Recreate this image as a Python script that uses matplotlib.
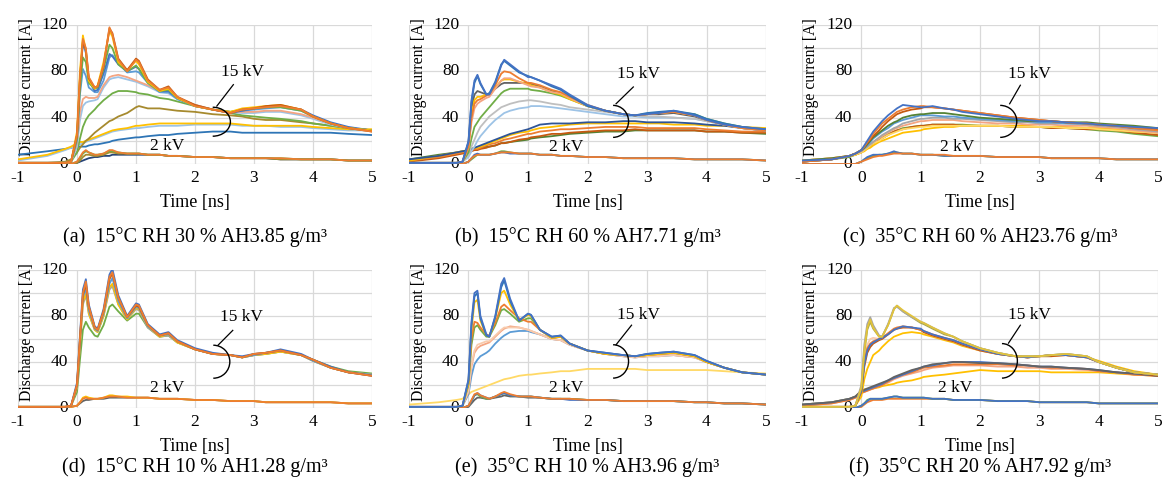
import matplotlib
matplotlib.use("Agg")
import matplotlib.pyplot as plt
from matplotlib.patches import Arc

# ---------------- data ----------------
# common time grid [ns]
T = [-1.0, -0.5, -0.2, -0.1, 0.0, 0.05, 0.1, 0.15, 0.2, 0.3, 0.35, 0.45, 0.55, 0.6, 0.7, 0.85,
     1.0, 1.05, 1.2, 1.4, 1.55, 1.7, 2.0, 2.3, 2.6, 2.8, 3.0, 3.2, 3.45, 3.8, 4.0, 4.3, 4.6, 5.0]

# (a) 15C RH30%
A15 = [
    [8,11,13,14,15,15,15,15,16,17,17,18,19,20,21,22,23,23,24,25,25,26,27,28,28,27,27,27,27,27,27,27,26,25],
    [3,7,12,14,16,17,18,19,20,22,23,25,27,28,29,30,31,31,32,33,33,33,34,34,34,33,33,33,32,32,31,30,29,29],
    [4,8,13,15,18,19,19,20,21,23,24,26,28,29,30,31,33,33,34,35,35,35,35,35,35,34,33,33,33,33,32,31,30,30],
    [1,1,2,4,10,14,17,20,22,27,29,33,37,38,41,44,49,50,48,48,47,46,45,43,42,41,39,38,38,36,35,33,31,29],
    [1,1,1,2,10,22,32,38,42,47,50,55,59,61,63,63,62,61,60,57,56,54,50,47,44,42,41,40,39,37,35,33,31,29],
    [1,1,1,2,15,38,50,53,54,55,56,66,73,74,75,73,71,70,67,62,61,56,51,47,45,44,44,45,45,42,39,34,31,29],
    [1,1,1,2,18,45,56,58,57,57,58,68,75,76,77,75,72,71,68,63,62,57,51,47,45,45,45,46,46,43,40,35,31,29],
    [1,1,1,2,20,60,82,76,66,62,62,72,92,94,87,79,80,79,70,62,62,56,50,47,45,46,47,48,49,46,41,35,31,29],
    [1,1,1,2,24,72,105,96,72,63,64,78,95,93,86,80,84,82,71,63,63,57,50,47,44,46,48,49,50,47,42,36,32,29],
    [1,1,1,2,22,65,92,88,70,65,66,82,103,100,86,80,85,82,70,63,64,57,50,47,45,47,48,49,49,46,41,35,31,29],
    [1,1,1,2,28,80,111,98,72,65,68,88,115,110,88,81,89,86,71,63,65,57,50,47,45,48,49,50,51,47,41,35,31,29],
    [1,1,1,2,25,74,106,99,74,66,67,84,117,113,91,81,91,89,73,64,67,58,51,47,44,47,48,50,51,47,41,35,31,28],
    [1,1,1,2,25,75,108,100,75,66,67,85,118,112,90,80,90,88,72,64,66,58,50,47,44,47,48,49,50,47,41,35,31,28],
]
A2 = [
    [0,0,0,0,1,2,3,4,5,6,6,7,7,8,8,8,8,8,8,8,7,7,6,6,5,5,5,5,4,4,4,4,3,3],
    [0,0,0,0,1,3,6,8,8,7,7,8,10,10,9,9,9,9,8,8,7,7,6,6,5,5,5,5,4,4,4,4,3,3],
    [0,0,0,0,2,5,9,11,10,8,8,9,11,11,10,9,9,9,8,8,7,7,6,6,5,5,5,5,5,4,4,4,3,3],
    [0,0,0,0,2,6,10,12,10,8,8,9,12,12,10,9,9,9,8,8,7,7,6,6,5,5,5,5,5,4,4,4,3,3],
]

# (b) 15C RH60%
B15 = [
    [4,8,10,11,12,12,13,13,14,15,15,16,18,18,19,20,21,22,23,24,25,26,27,28,28,29,29,29,29,29,28,28,27,26],
    [2,5,8,9,10,11,12,12,13,14,15,16,18,18,19,21,22,23,24,26,26,27,28,29,29,30,29,29,29,29,28,28,27,27],
    [3,6,9,10,11,12,13,13,14,16,17,18,20,21,22,24,26,26,28,29,30,30,31,32,32,32,31,31,31,31,30,29,28,28],
    [3,7,10,11,12,13,14,14,15,17,18,20,22,23,25,27,28,29,31,32,33,34,35,35,35,35,35,35,34,34,33,33,32,31],
    [4,7,10,11,12,13,14,15,16,18,19,21,23,24,26,28,30,31,34,35,35,35,36,36,37,37,36,36,36,35,34,33,31,29],
    [1,1,1,2,6,11,15,20,24,30,33,38,42,44,46,48,49,50,50,49,48,47,45,43,41,41,40,40,40,39,37,34,31,29],
    [1,1,1,2,8,15,21,27,32,38,41,45,49,50,52,54,55,55,54,52,51,49,47,45,43,42,41,41,40,39,37,34,31,29],
    [1,1,1,2,10,22,32,36,40,46,49,55,61,63,65,65,65,64,63,61,59,56,50,46,43,42,43,44,45,43,39,35,32,29],
    [1,1,1,2,18,48,60,63,62,60,61,65,69,70,70,70,70,69,67,63,61,57,50,46,43,42,43,43,44,41,38,34,31,29],
    [1,1,1,2,16,42,55,58,58,60,60,66,72,73,73,71,69,68,66,62,60,56,50,46,43,42,43,44,45,42,38,34,31,30],
    [1,1,1,2,14,36,48,52,54,57,58,65,72,74,74,71,68,67,66,62,61,57,50,46,43,42,43,44,45,42,38,34,31,29],
    [1,1,1,2,15,40,52,55,56,59,60,68,78,80,79,74,70,70,68,64,62,58,51,46,43,42,43,44,45,42,38,34,31,29],
    [1,1,1,2,19,53,70,76,69,60,61,71,86,89,85,79,76,75,72,67,64,59,50,46,43,42,44,45,46,43,39,35,32,30],
    [1,1,1,2,20,55,72,77,70,60,60,70,85,90,86,80,75,75,72,68,65,60,51,46,43,42,43,44,46,42,38,34,32,30],
]
B2 = [
    [0,0,0,0,2,4,6,8,8,8,8,9,11,11,10,9,9,9,8,8,7,7,6,6,5,5,5,5,5,4,4,4,4,3],
    [0,0,0,0,2,5,8,9,8,8,8,9,10,10,9,9,9,9,8,8,7,7,6,6,5,5,5,5,5,4,4,4,4,3],
    [0,0,0,0,2,5,7,8,8,8,8,9,10,10,10,9,9,9,8,8,7,7,6,6,5,5,5,5,5,4,4,4,4,3],
]

# (c) 35C RH60%
C15 = [
    [2,4,6,8,10,12,14,16,18,21,23,26,28,29,31,32,33,33,34,34,34,34,33,33,32,32,32,31,31,30,29,28,26,24],
    [2,4,7,8,10,12,14,16,18,21,22,25,28,29,30,32,33,33,34,34,34,33,33,33,32,32,32,31,31,30,30,29,27,25],
    [3,5,7,8,10,11,13,14,16,19,20,22,24,25,27,28,29,30,31,32,32,33,33,33,33,33,32,32,32,31,31,30,28,27],
    [3,5,7,8,10,12,14,16,18,20,22,25,27,28,30,31,32,32,33,33,33,33,33,33,32,32,32,32,31,31,30,29,28,27],
    [3,5,7,9,11,13,15,17,19,22,24,27,30,31,33,35,37,37,38,38,38,37,36,35,35,34,34,34,33,33,32,31,29,27],
    [2,4,7,9,11,13,15,17,19,23,25,28,31,32,35,37,39,39,40,40,39,39,38,37,36,36,35,35,35,34,33,32,30,28],
    [2,4,7,9,12,14,16,19,22,26,28,31,35,36,38,40,42,42,42,41,41,40,39,38,37,37,36,36,35,35,34,33,31,30],
    [3,5,7,9,12,14,17,20,23,27,29,33,36,37,40,42,43,43,44,44,43,42,40,39,38,37,37,37,36,36,35,34,33,31],
    [2,4,7,9,12,15,18,21,24,29,32,37,41,43,45,47,48,49,49,48,47,46,44,42,40,39,38,37,36,35,34,33,31,30],
    [2,4,7,9,12,15,19,22,26,32,35,39,43,45,47,49,50,50,49,48,47,46,44,42,40,39,38,37,36,35,34,33,31,29],
    [3,4,7,9,12,16,20,24,28,34,37,42,46,48,51,50,49,49,50,48,47,45,43,41,39,38,37,37,36,35,34,33,32,31],
]
C2 = [
    [0,0,0,0,2,4,5,6,7,8,8,9,10,10,9,9,8,8,8,7,7,7,7,6,6,6,6,5,5,5,5,4,4,4],
    [0,0,0,0,2,4,6,7,8,8,8,9,11,10,9,9,8,8,8,7,7,7,7,6,6,6,6,5,5,5,5,4,4,4],
    [0,0,0,0,2,3,4,5,6,7,7,8,9,9,9,9,8,8,8,8,7,7,7,6,6,6,6,5,5,5,5,4,4,4],
]

# (d) 15C RH10%
D15 = [
    [1,1,1,2,14,42,68,75,70,63,62,72,88,90,84,76,82,82,70,62,63,57,51,47,46,44,46,47,49,46,42,36,32,30],
    [1,1,1,2,18,55,90,98,82,68,66,80,103,106,90,77,86,85,70,62,63,57,51,47,46,44,46,47,49,46,41,35,31,29],
    [1,1,1,2,18,55,92,100,82,68,66,80,105,108,90,77,87,86,71,62,64,57,51,47,46,44,46,47,49,46,41,35,31,29],
    [1,1,1,2,19,58,96,104,85,69,67,82,108,113,93,78,88,87,71,63,64,58,51,47,46,44,46,48,50,46,41,35,31,29],
    [1,1,1,2,22,63,103,112,90,71,69,86,116,121,98,80,91,90,73,64,66,59,52,48,46,45,47,48,51,47,42,36,31,28],
    [1,1,1,2,20,60,98,108,88,70,68,84,112,117,96,79,89,88,72,63,65,58,51,47,46,44,47,48,50,46,42,35,31,28],
    [1,1,1,2,20,60,100,110,88,70,68,84,114,118,96,79,90,89,72,63,65,58,51,47,46,44,47,48,50,46,42,35,31,28],
]
D2 = [
    [1,1,1,1,2,4,6,7,7,8,8,8,9,9,9,9,9,9,9,8,8,8,7,7,6,6,6,5,5,5,5,5,4,4],
    [1,1,1,1,2,5,9,10,9,8,8,9,11,11,10,10,9,9,9,8,8,8,7,7,6,6,6,5,5,5,5,5,4,4],
    [1,1,1,1,2,5,8,9,8,8,8,9,10,10,10,9,9,9,9,8,8,8,7,7,6,6,6,5,5,5,5,5,4,4],
]

# (e) 35C RH10%
E15 = [
    [3,5,7,8,12,14,15,16,17,19,20,22,24,25,26,28,29,29,30,31,32,32,34,34,34,34,33,33,33,33,33,32,31,30],
    [1,1,1,2,12,28,38,42,45,48,50,56,61,63,66,67,67,66,64,60,59,55,50,47,45,44,45,45,46,44,40,35,31,29],
    [1,1,1,2,14,36,48,52,54,56,57,62,67,69,71,70,68,67,64,60,59,55,50,47,45,44,45,46,46,44,40,35,31,29],
    [1,1,1,2,15,38,50,55,56,58,58,63,68,70,70,70,68,67,64,60,59,55,50,47,45,44,45,45,46,44,40,35,31,29],
    [1,1,1,2,20,55,70,72,68,62,62,72,85,86,82,75,78,78,68,61,62,56,50,47,46,45,46,47,48,45,40,35,31,29],
    [1,1,1,2,22,60,75,74,70,64,63,74,88,90,85,78,75,75,68,61,62,56,50,47,46,45,46,47,48,45,40,35,31,29],
    [1,1,1,2,22,68,92,94,76,63,62,78,100,102,90,76,81,80,68,61,62,56,50,47,46,45,46,47,48,45,40,35,31,29],
    [1,1,1,2,24,72,97,100,78,63,62,79,105,111,93,76,82,81,68,62,63,56,50,48,46,45,47,48,49,46,41,35,31,29],
    [1,1,1,2,25,75,100,102,80,64,62,80,108,113,95,76,82,81,68,62,63,56,50,48,46,45,47,48,49,46,41,35,31,29],
]
E2 = [
    [0,0,0,0,1,4,7,9,9,8,8,9,10,11,10,10,9,9,9,8,8,8,7,7,6,6,6,6,6,5,5,4,4,3],
    [0,0,0,0,2,6,11,12,10,8,8,10,12,13,11,10,10,10,9,8,8,8,7,7,6,6,6,6,6,5,5,4,4,3],
    [0,0,0,0,2,6,11,13,11,9,8,10,12,13,11,10,10,10,9,8,8,7,7,7,6,6,6,6,6,5,5,4,4,3],
    [0,0,0,0,2,7,12,13,11,9,8,10,13,14,12,10,10,10,9,8,8,8,7,7,6,6,6,6,6,5,5,4,4,3],
]

# (f) 35C RH20%
F15 = [
    [3,5,8,10,15,16,16,17,17,18,19,20,21,22,23,24,26,27,28,29,30,31,33,32,32,32,32,31,31,31,31,30,29,28],
    [2,4,7,9,13,14,15,16,17,19,20,22,25,26,28,30,32,33,35,36,37,37,37,36,36,35,35,34,34,33,32,31,29,28],
    [2,4,7,9,13,14,15,16,17,19,20,23,26,27,29,31,34,35,36,37,38,38,38,38,37,37,36,35,35,34,32,31,29,28],
    [3,5,8,10,14,15,16,17,18,20,21,24,26,27,29,32,35,36,37,39,40,40,40,39,38,37,36,36,35,34,33,31,30,28],
    [3,5,8,10,15,16,17,18,19,21,22,24,27,28,30,33,35,36,38,39,40,40,39,39,38,37,36,36,35,34,33,31,30,28],
    [1,1,1,2,10,25,34,40,46,50,53,58,62,63,65,66,65,64,62,59,57,54,50,47,45,44,45,46,46,44,41,36,32,29],
    [1,1,1,2,16,42,55,60,61,60,60,64,68,69,70,70,68,66,63,60,58,55,50,47,45,44,45,45,46,44,40,35,31,29],
    [1,1,1,2,14,36,48,53,56,59,60,64,68,69,70,70,68,66,63,60,58,55,50,47,45,44,45,45,46,44,40,35,31,28],
    [1,1,1,2,15,40,52,56,58,60,61,65,69,70,71,70,68,67,64,61,59,56,51,47,45,44,45,46,46,44,40,35,31,29],
    [1,1,1,2,15,38,50,55,57,60,61,64,68,69,71,70,69,67,64,61,59,56,51,47,45,44,45,46,46,44,40,35,31,29],
    [1,1,1,2,17,48,68,75,69,62,62,72,86,89,84,79,74,73,69,64,62,58,52,48,45,45,45,46,47,45,40,35,31,29],
    [1,1,1,2,20,55,73,79,72,63,62,73,87,88,84,79,75,74,70,65,62,58,52,48,45,45,45,46,47,45,40,35,31,29],
    [1,1,1,2,18,50,70,77,70,62,62,72,86,89,85,80,75,74,70,65,62,58,52,48,45,45,45,46,47,45,40,35,31,29],
]
F2 = [
    [0,0,0,0,1,3,5,6,7,7,7,8,8,8,8,8,8,8,8,8,7,7,7,6,6,6,5,5,5,5,4,4,4,4],
    [0,0,0,0,2,4,7,8,8,8,8,9,10,10,9,9,9,9,8,8,7,7,7,6,6,6,5,5,5,5,4,4,4,4],
    [0,0,0,0,2,4,6,8,8,8,8,9,10,10,9,9,9,9,8,8,7,7,7,6,6,6,5,5,5,5,4,4,4,4],
]

CAPTIONS = [
    "(a)  15°C RH 30 % AH3.85 g/m³",
    "(b)  15°C RH 60 % AH7.71 g/m³",
    "(c)  35°C RH 60 % AH23.76 g/m³",
    "(d)  15°C RH 10 % AH1.28 g/m³",
    "(e)  35°C RH 10 % AH3.96 g/m³",
    "(f)  35°C RH 20 % AH7.92 g/m³",
]
XTICKS = [-1, 0, 1, 2, 3, 4, 5]
YLABELS = [0, 40, 80, 120]

# ---------------- styles ----------------
SERIF = "Liberation Serif"
plt.rcParams["font.family"] = [SERIF, "DejaVu Serif"]

BLUE, ORANGE, GRAY, GOLD, LBLUE, GREEN = "#4472C4", "#ED7D31", "#A5A5A5", "#FFC000", "#5B9BD5", "#70AD47"
DBLUE, DORANGE, DGRAY, OLIVE = "#264478", "#C55A11", "#636363", "#A68A2E"
SALMON, PALEBLUE, LGRAY, DGREEN = "#F4A582", "#9DC3E6", "#BFBFBF", "#548235"

COLORS = {
    "a15": ["#2E75B6", PALEBLUE, GOLD, OLIVE, GREEN, PALEBLUE, SALMON, LBLUE, BLUE, GREEN, GOLD, DORANGE, ORANGE],
    "a2": [DBLUE, OLIVE, GREEN, ORANGE],
    "b15": [DGREEN, DORANGE, ORANGE, GOLD, "#2F5597", PALEBLUE, LGRAY, GREEN, DGRAY, GOLD, SALMON, ORANGE, "#2E75B6", BLUE],
    "b2": [GREEN, BLUE, ORANGE],
    "c15": [GREEN, DORANGE, GOLD, "#FFD966", SALMON, GRAY, LBLUE, DGREEN, DORANGE, ORANGE, BLUE],
    "c2": [GREEN, BLUE, ORANGE],
    "d15": [GREEN, GRAY, GOLD, LBLUE, BLUE, DORANGE, ORANGE],
    "d2": [DGRAY, GOLD, ORANGE],
    "e15": ["#FFD966", LBLUE, SALMON, "#F8CBAD", GREEN, ORANGE, GOLD, "#2E75B6", BLUE],
    "e2": [DGRAY, GREEN, BLUE, ORANGE],
    "f15": [GOLD, SALMON, ORANGE, BLUE, DGRAY, GOLD, "#F8CBAD", DORANGE, ORANGE, BLUE, "#A9A946", GRAY, "#E2C33C"],
    "f2": [ORANGE, GREEN, BLUE],
}

W, H = 1164, 488
COLS = [(18, 372), (409, 766), (802, 1158)]
ROWS = [(25, 164), (270, 408)]
ROW_TEXT = [(180, 203, 237), (425, 447, 467)]

# annotation geometry (data coords): label15, leader start, leader end, arc (t0, ytop, ybot, dx), label2
ANN = [
    ((2.80, 79), (2.65, 68.5), (2.37, 50.0), (2.30, 49.0, 24.0, 0.30), (1.52, 15.5)),
    ((2.85, 78), (2.77, 66.5), (2.48, 52.0), (2.43, 50.6, 23.0, 0.26), (1.64, 14.5)),
    ((2.84, 78), (2.68, 68.0), (2.50, 52.0), (2.34, 50.6, 23.0, 0.28), (1.61, 14.5)),
    ((2.79, 79), (2.64, 67.5), (2.39, 54.6), (2.31, 54.6, 25.9, 0.28), (1.52, 17.0)),
    ((2.86, 81), (2.74, 72.0), (2.48, 55.0), (2.43, 55.0, 26.0, 0.26), (1.64, 17.0)),
    ((2.84, 81), (2.68, 72.0), (2.48, 56.4), (2.37, 56.0, 26.0, 0.26), (1.58, 17.0)),
]

panels = [(A15, A2, "a"), (B15, B2, "b"), (C15, C2, "c"), (D15, D2, "d"), (E15, E2, "e"), (F15, F2, "f")]

fig = plt.figure(figsize=(W / 100, H / 100), dpi=100)

for i, (s15, s2, key) in enumerate(panels):
    r, c = divmod(i, 3)
    x0, x1 = COLS[c]
    y0, y1 = ROWS[r]
    ax = fig.add_axes([x0 / W, 1 - y1 / H, (x1 - x0) / W, (y1 - y0) / H])
    ax.set_xlim(-1, 5)
    ax.set_ylim(0, 120)
    for sp in ax.spines.values():
        sp.set_visible(False)
    ax.set_xticks(XTICKS)
    ax.set_xticklabels([str(v) for v in XTICKS], fontsize=12.5)
    ax.set_yticks(range(0, 121, 20))
    ax.set_yticklabels([])
    ax.tick_params(length=0, pad=4.5)
    ax.grid(True, color="#d9d9d9", lw=0.9, zorder=0)
    ax.set_axisbelow(True)

    for v in YLABELS:
        ax.text(-0.155, v, str(v), ha="right", va="center", fontsize=12.5, zorder=1)
    ax.text(-0.84, 66, "Discharge current [A]", rotation=90, ha="center", va="center",
            fontsize=11.3, zorder=1)

    for vals, col in zip(s2, COLORS[key + "2"]):
        ax.plot(T, vals, color=col, lw=1.3, zorder=2, clip_on=True)
    for vals, col in zip(s15, COLORS[key + "15"]):
        ax.plot(T, vals, color=col, lw=1.3, zorder=2, clip_on=True)

    lab15, l0, l1, arc, lab2 = ANN[i]
    ax.text(lab15[0], lab15[1], "15 kV", ha="center", va="center", fontsize=12.5, zorder=5)
    ax.plot([l0[0], l1[0]], [l0[1], l1[1]], color="black", lw=0.9, zorder=5)
    t0, ytop, ybot, dx = arc
    ax.add_patch(Arc((t0, (ytop + ybot) / 2), 2 * dx, ytop - ybot, theta1=-90, theta2=90,
                     color="black", lw=1.0, zorder=5))
    ax.text(lab2[0], lab2[1], "2 kV", ha="center", va="center", fontsize=12.5, zorder=5)

    xc = (x0 + x1) / 2 / W
    fig.text(xc, 1 - ROW_TEXT[r][1] / H, "Time [ns]", ha="center", va="center", fontsize=13)
    fig.text(xc, 1 - ROW_TEXT[r][2] / H, CAPTIONS[i], ha="center", va="center", fontsize=14.5)

fig.savefig("out.png", dpi=100)
